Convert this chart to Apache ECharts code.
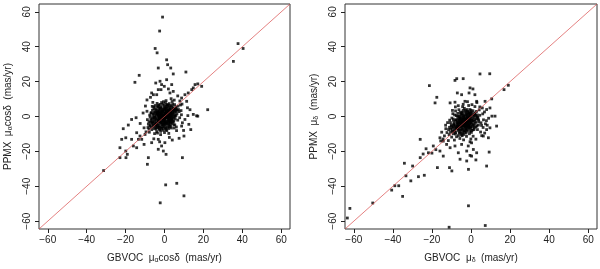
<!DOCTYPE html>
<html>
<head>
<meta charset="utf-8">
<script src="https://cdn.jsdelivr.net/npm/echarts@6/dist/echarts.min.js"></script>
<style>html,body{margin:0;padding:0;background:#fff}#c{width:600px;height:269px}</style>
</head>
<body>
<div id="c"></div>
<script>
// Axis range and tick labels
var axisRange = [-64.5, 64.5];
var tickValues = [-60, -40, -20, 0, 20, 40, 60];

// Left panel: GBVOC mu_alpha cos(delta) vs PPMX mu_alpha cos(delta)
var raCore = [
[0.5,1.2],[-1.3,-0.8],[2.1,2.5],[-2.4,-1.9],[1.1,-0.4],[-0.6,0.9],[3.2,1.8],[-3.1,-2.6],[0.2,-1.5],[1.8,0.6],
[-1.7,1.4],[2.7,-1.1],[-2.9,0.3],[4.1,3.3],[-4.2,-3.5],[0.9,3.1],[-0.4,-3.2],[3.6,-0.5],[-3.5,1.1],[1.4,-2.6],
[-1.1,2.7],[2.3,4.2],[-2.2,-4.1],[5.1,2.4],[-5.0,-2.2],[0.1,4.8],[-0.7,-5.1],[4.4,0.9],[-4.6,-0.6],[2.9,-3.4],
[-2.6,3.6],[1.6,5.5],[-1.9,-5.8],[5.8,4.6],[-5.9,-4.9],[3.5,6.2],[-3.3,-6.4],[6.4,1.5],[-6.2,-1.3],[0.6,-6.8],
[-0.3,6.5],[4.8,-2.7],[-4.7,2.9],[6.9,5.9],[-6.8,-6.1],[2.4,7.4],[-2.5,-7.6],[7.5,2.8],[-7.1,-3.4],[1.2,-8.1],
[-1.5,8.0],[5.3,-4.8],[-5.4,4.4],[3.9,8.6],[-4.0,-8.7],[7.8,-0.7],[-7.6,0.8],[0.0,-9.2],[0.8,9.1],[6.1,-6.0],
[-6.3,5.8],[8.2,6.6],[-8.0,-7.2],[2.0,0.0],[-2.0,0.0],[0.3,2.0],[-0.2,-2.2],[1.5,1.5],[-1.5,-1.6],[3.0,3.0],
[-3.0,-3.1],[1.0,0.3],[-0.9,-0.2],[0.4,-0.7],[-0.5,0.6],[2.5,1.0],[-2.6,-1.1],[1.9,-1.8],[-1.8,1.9],[3.3,0.2],
[-3.4,-0.3],[4.6,4.9],[-4.4,-5.2],[2.2,-4.4],[-2.1,4.5],[5.5,-1.4],[-5.6,1.6],[3.7,-2.2],[-3.8,2.3],[0.7,5.9],
[-0.8,-5.9],[6.6,3.6],[-6.5,-3.8],[4.2,7.1],[-4.3,-7.3],[1.3,-4.0],[-1.2,3.9],[5.9,0.4],[-6.0,-0.5],[2.8,5.1],
[-2.8,-5.3],[7.2,4.0],[-7.3,-5.0],[3.1,-5.6],[-3.2,5.4],[0.5,7.8],[-0.6,-7.9],[4.0,-4.0],[-4.1,3.6],[1.7,2.9],
[-1.7,-3.0],[2.6,-0.3],[-2.7,0.5],[0.9,-2.9],[-1.0,2.5],[3.8,1.3],[-3.9,-1.4],[5.2,6.8],[-5.3,-6.9],[1.1,6.6],
[-1.3,-6.7],[6.8,-2.1],[-6.7,2.2],[2.1,-6.9],[-2.3,6.9],[8.5,3.4],[-8.3,-4.4],[4.9,-6.6],[-4.8,6.3],[0.2,0.1],
[-7.8,-9.0],[7.9,8.9],[-5.1,-9.8],[5.0,9.4],[-8.8,-1.8],[8.7,1.0],[-3.6,-9.5],[3.4,10.2],[9.2,-3.6],[-9.0,3.0],
[6.2,-8.1],[-6.0,8.1],[-8.5,-6.3],[9.0,7.1],[-2.0,-10.4],[2.2,-9.7]
];
var raCoreDense = [
[0.6,-0.2],[-0.3,0.4],[1.2,0.9],[-1.1,-1.3],[0.8,1.8],[-0.7,-1.9],[2.2,1.5],[-2.3,-1.2],[1.5,-1.0],[-1.4,1.0],
[0.0,2.8],[0.1,-2.7],[2.9,0.6],[-2.8,-0.7],[1.9,3.6],[-1.8,-3.5],[3.4,2.4],[-3.3,-2.3],[0.4,-4.2],[-0.5,4.1],
[3.9,-1.6],[-3.7,1.7],[2.4,-2.2],[-2.4,2.1],[4.3,1.9],[-4.4,-2.0],[1.0,4.5],[-1.1,-4.6],[4.7,3.9],[-4.5,-4.2],
[2.6,6.0],[-2.7,-6.1],[5.4,1.0],[-5.3,-1.0],[0.3,-5.5],[-0.2,5.4],[3.3,-3.8],[-3.4,3.2],[5.9,5.3],[-5.7,-5.6],
[1.8,-5.0],[-1.6,5.0],[4.5,-1.0],[-4.3,0.9],[0.7,2.2],[-0.8,-2.4],[2.0,-0.8],[-2.1,0.8],[3.6,4.0],[-3.6,-4.4],
[1.3,3.3],[-1.2,-3.4],[2.7,2.0],[-2.9,-2.0],[0.2,0.9],[-0.1,-0.9],[1.6,0.2],[-1.6,-0.1],[3.1,-1.9],[-3.0,1.8],
[4.0,5.6],[-4.0,-5.9],[0.9,-3.5],[-1.0,3.4],[2.3,-2.9],[-2.5,2.8],[5.0,-0.3],[-5.1,0.4],[1.4,6.8],[-1.5,-7.0],
[3.5,-6.6],[-3.6,6.0],[6.0,2.8],[-6.1,-2.9],[0.1,3.7],[-0.3,-3.9],[2.8,-4.9],[-2.9,4.8],[4.9,4.1],[-4.9,-4.5],
[-6.5,-7.5],[-5.5,-3.0],[-7.0,-1.5],[-6.0,1.0],[-4.5,4.5],[-3.0,6.5],[-1.0,7.0],[1.0,5.0],[3.0,4.5],[4.5,2.5],
[5.5,3.5],[4.0,-2.5],[2.5,-6.0],[0.0,-6.5],[-2.0,-8.5],[-4.5,-6.5],[-7.5,-5.5],[-5.0,-0.5],[-3.5,2.5],[-2.0,5.5],
[0.5,-4.5],[2.0,-3.5],[3.5,-0.8],[1.2,2.4],[-1.4,-1.0],[-2.4,-2.9],[-4.0,-3.8],[-5.8,-4.0],[-6.8,-2.4],[-3.2,0.8],
[-1.9,2.9],[0.4,4.3],[2.4,3.4],[3.9,0.4],[4.4,-3.2],[1.5,-6.2],[-0.9,-4.4],[-3.6,-5.0],[-5.2,2.3],[-4.2,1.8],
[-6.2,3.6],[-7.4,-0.2],[-8.0,-3.0],[-2.6,-7.0],[0.8,-7.5],[3.0,-2.7],[5.3,0.2],[6.0,4.0],[2.0,6.5],[-0.5,8.5],
[-3.8,7.5],[-5.5,5.5],[-7.0,2.0],[-1.3,0.3],[0.0,-1.3],[1.3,-0.3],[-0.6,1.6],[2.8,1.2],[-2.2,-0.5],[4.8,-4.8]
];
var raOuter = [
[-1.0,57.0],[-2.5,49.0],[-4.8,39.0],[-3.8,36.5],[1.1,32.5],[1.6,29.7],[-3.2,27.8],[3.2,27.8],[11.0,25.5],[4.5,24.4],
[-13.0,23.6],[-15.2,19.6],[35.4,31.6],[37.8,41.8],[40.4,39.0],
[-4.5,19.2],[-2.3,20.2],[-1.5,18.3],[1.1,21.1],[-0.1,17.3],[-3.2,15.4],[3.7,18.3],[2.8,13.5],[-4.0,12.5],[-5.7,12.5],
[-6.6,13.5],[-1.8,15.4],[4.5,14.4],[2.0,15.8],
[15.7,18.3],[17.1,18.7],[19.1,17.3],[14.8,16.4],[14.0,15.4],[12.2,13.5],[10.5,12.5],[8.8,10.6],[11.4,8.7],[22.2,3.9],
[17.1,0.2],[14.8,1.2],[13.1,3.9],[10.5,-1.7],[8.8,-5.5],[10.0,-11.2],[9.2,-23.6],[6.3,-38.3],[0.6,-39.2],[10.0,-45.5],
[-2.2,-49.5],
[-21.2,-7.0],[-18.6,-4.9],[-16.9,-1.7],[-14.6,-0.7],[-14.3,-9.3],[-19.9,-12.2],[-22.0,-13.1],[-22.9,-17.9],[-19.9,-19.8],
[-19.1,-21.7],[-22.9,-23.6],[-19.8,-23.6],[-16.9,-13.1],[-13.4,-13.1],[-16.0,-16.9],[-14.3,-17.9],[-11.7,-13.1],
[-8.3,-23.6],[-8.8,-27.4],[-3.2,-18.8],[-0.6,-19.8],[0.8,-21.7],[-1.5,-16.9],[0.2,-15.0],[-3.2,-13.1],[-6.6,-15.0],
[-10.0,-10.3],[-12.6,-11.2],[-31.3,-31.0],
[12.5,-4.5],[-10.5,-6.5],[-9.5,-8.8],[11.8,5.0],[-11.0,2.0],[-9.8,6.0],[9.8,-8.0],[12.0,0.5],[-7.2,11.0],[6.8,11.8],
[-12.5,-4.0],[7.5,-12.5],[-5.5,-12.8],[4.0,-13.5],[-9.0,9.5],[13.5,-7.5],[-2.5,-14.5],[2.5,-12.0],[16.5,0.4],[-10.5,-16.0]
];

// Right panel: GBVOC mu_delta vs PPMX mu_delta
var decCore = [
[-3.0,-2.5],[-1.8,-1.2],[-4.5,-4.1],[-0.6,-0.3],[-5.7,-5.2],[-2.2,-3.8],[-3.9,-1.6],[0.8,0.9],[-7.1,-6.5],[-1.1,-4.9],
[-4.8,-0.4],[1.9,1.6],[-8.2,-7.9],[-2.7,0.7],[-3.6,-6.2],[0.3,-2.4],[-6.3,-3.1],[2.8,2.9],[-9.4,-8.6],[-0.2,-6.8],
[-5.9,0.2],[3.5,-1.3],[-10.1,-4.9],[-1.4,2.4],[-4.2,-8.3],[1.2,-4.2],[-7.5,-1.8],[4.2,3.8],[-11.2,-10.4],[0.9,-7.7],
[-6.8,1.8],[5.1,-3.6],[-8.9,-2.6],[-2.9,3.6],[-5.1,-9.5],[2.4,-5.9],[-9.8,-0.9],[5.8,4.9],[-12.3,-9.2],[-0.8,-9.9],
[-7.9,3.2],[6.4,-1.9],[-3.3,-4.4],[-2.1,-2.0],[-4.0,-3.3],[-1.5,-3.1],[-3.7,-1.0],[-0.4,-1.7],[-5.2,-3.9],[-2.6,-5.6],
[-3.5,0.1],[0.1,-3.6],[-6.1,-5.7],[-1.0,0.4],[-4.6,-6.9],[-0.9,-5.4],[-5.5,-1.1],[1.5,-0.8],[-7.2,-4.4],[-2.4,-7.3],
[-6.6,-8.0],[1.6,-2.7],[-8.1,-5.3],[-1.3,1.5],[-4.4,2.5],[3.1,-0.2],[-9.1,-6.1],[-3.2,-9.0],[-6.0,-2.2],[0.4,1.9],
[-2.0,-4.5],[-3.9,-5.1],[-5.0,-6.1],[-1.7,-0.4],[-4.1,-2.1],[-0.6,-4.3],[-2.9,-1.4],[-6.9,-6.8],[-0.3,0.8],[-7.8,-9.2],
[2.3,0.5],[-8.6,-3.9],[-1.9,-8.4],[-5.3,1.2],[3.8,-4.9],[-10.4,-7.3],[0.2,-9.1],[-4.9,-10.6],[4.5,0.7],[-11.0,-6.2],
[-3.4,4.7],[1.0,3.3],[-6.4,-10.9],[6.9,2.6],[-12.9,-7.0],[-0.5,4.0],[3.3,-7.5],[-7.4,-11.6],[7.4,-4.2],[-9.9,-11.8],
[-2.3,-11.4],[6.2,-6.3],[-13.6,-11.1],[-4.3,5.6],[2.0,5.7],[-8.4,0.9],[4.9,-8.9],[-10.9,-2.1],[-1.2,6.3],[-5.7,-12.6],
[-14.3,-12.9],[7.9,-2.4],[-6.2,3.9],[1.1,-11.3],[-3.8,-13.4],[5.4,-5.1],[-11.6,-13.8],[-0.1,-12.9],[8.3,-5.0],[-9.3,1.6],
[-2.5,-2.9],[-3.1,-3.4],[-4.3,-4.8],[-1.4,-2.2],[-2.0,-0.8],[-5.1,-5.0],[-3.6,-3.9],[-0.9,-2.6],[-4.8,-2.7],[-2.8,-6.1],
[-8.0,5.5],[-4.0,7.0],[0.5,6.8],[3.0,8.0],[-6.5,6.2],[4.5,5.5],[-1.8,8.5],[-9.5,3.5],[6.0,1.5],[-12.0,-3.5],
[-13.0,-5.0],[8.0,-7.5],[7.0,-9.5],[-0.5,-14.5],[2.5,-13.0],[-15.0,-9.0],[-15.5,-14.0],[-8.5,-13.5],[5.5,-11.0],[9.0,-1.0]
];
var decCoreDense = [
[-2.6,-2.0],[-3.4,-3.1],[-1.9,-2.7],[-4.1,-2.6],[-2.2,-1.5],[-3.8,-3.9],[-1.2,-1.0],[-4.8,-4.3],[-2.9,-3.6],[-3.2,-1.8],
[-0.7,-2.1],[-5.3,-3.3],[-1.6,-3.9],[-4.4,-1.3],[-0.2,0.0],[-5.9,-5.8],[-2.4,-4.8],[-3.6,-0.2],[0.6,-1.1],[-6.4,-4.4],
[-1.3,-5.8],[-4.7,0.7],[1.2,0.3],[-7.0,-5.6],[-0.6,-6.3],[-5.6,-0.8],[2.0,-1.9],[-7.6,-7.0],[-2.0,-7.7],[-4.2,1.6],
[0.9,-4.8],[-6.2,-7.4],[-1.0,2.1],[-3.0,-8.2],[2.6,-3.1],[-8.4,-6.7],[-2.3,1.2],[-5.0,-7.8],[1.7,-6.6],[-6.7,-1.5],
[0.0,2.6],[-4.3,-9.6],[3.2,0.9],[-8.8,-4.6],[-1.7,3.0],[-3.3,-5.4],[-2.7,-0.7],[-3.9,-4.5],[-1.4,-3.4],[-4.6,-2.9],
[-0.9,-0.8],[-5.0,-5.6],[-2.1,-6.0],[-3.5,-2.4],[-0.3,-3.3],[-6.0,-3.7],[-1.8,-0.1],[-4.1,-7.2],[0.5,-2.0],[-7.3,-3.0],
[-0.6,1.1],[-5.8,-9.0],[1.4,-5.4],[-9.0,-9.9],[-2.8,2.2],[-3.7,-10.3],[3.9,-2.0],[-10.0,-5.5],[0.3,-8.0],[-6.9,0.1],
[-9.5,-8.0],[-8.0,-10.0],[-10.5,-9.0],[-7.0,-3.5],[-6.0,-9.5],[-4.5,-11.0],[-2.5,-9.5],[-0.5,-8.5],[1.5,-7.5],[3.0,-5.5],
[4.0,-3.0],[3.5,-0.5],[2.0,2.0],[0.0,3.5],[-2.0,4.0],[-4.0,3.5],[-5.5,2.5],[-7.5,0.5],[-9.0,-1.5],[-10.5,-3.5],
[-11.5,-7.5],[-8.5,-8.5],[-6.5,-6.0],[-5.0,-2.0],[-3.5,-5.0],[-1.5,-4.8],[-0.2,-5.5],[1.0,-2.5],[-0.8,-0.8],[-2.0,1.0],
[-3.8,0.6],[-5.8,-1.8],[-7.8,-2.2],[-8.8,-5.0],[-6.8,-4.8],[-4.6,-5.2],[-2.8,-7.0],[-1.0,-7.0],[0.7,-5.8],[2.2,-4.0],
[2.8,-1.2],[1.8,0.8],[-0.4,2.0],[-2.6,2.8],[-4.9,1.9],[-6.3,-0.3],[-7.6,-6.0],[-9.7,-6.4],[-5.4,-7.6],[-3.4,-8.2],
[-1.6,-6.4],[0.0,-4.0],[-1.2,-2.3],[-2.7,-3.3],[-4.3,-3.6],[-3.1,-4.1],[-2.3,-2.4],[-3.9,-2.8],[-1.9,-5.2],[-4.7,-4.6]
];
var decOuter = [
[9.6,24.5],[4.6,24.4],[-4.0,21.7],[-8.2,20.7],[-7.3,21.7],[-21.3,17.7],[19.1,17.9],[16.9,15.4],[10.6,10.1],[-0.5,16.4],
[1.0,15.8],[-1.0,13.5],[-7.0,13.5],[-4.8,12.5],[2.0,12.5],[-17.5,11.0],[-18.4,7.8],[-10.7,7.8],[-8.2,8.2],[-3.1,8.7],
[2.9,8.7],[7.2,8.7],[9.7,4.9],[8.0,4.0],[12.3,0.2],[10.7,0.2],[13.1,-5.5],[9.7,-6.5],[8.9,-12.2],[6.3,-11.2],
[9.3,-20.4],[8.0,-28.4],[2.5,-24.9],[-0.5,-22.3],[-2.2,-25.5],[-1.3,-30.3],[-6.5,-20.8],[-5.6,-24.5],[-9.8,-31.2],[-11.0,-29.3],
[-17.2,-29.3],[-23.9,-33.7],[-26.9,-34.5],[-30.8,-36.9],[-33.3,-34.0],[-34.1,-26.8],[-29.9,-28.4],[-26.0,-23.6],[-23.0,-18.5],[-21.8,-20.8],
[-19.3,-16.9],[-26.0,-13.1],[-15.9,-12.2],[-14.2,-14.1],[-12.5,-16.0],[-15.9,-19.8],[-10.7,-17.9],[-14.2,-22.7],[-8.2,-16.9],[-4.8,-16.0],
[-1.4,-16.9],[0.3,-15.1],[-2.2,-19.8],[1.2,-18.9],[2.9,-20.8],[0.3,-22.7],[-1.3,-51.2],[-35.0,-45.8],[-37.0,-39.7],[-39.0,-39.7],
[-40.6,-42.2],[-50.3,-49.6],[-62.0,-52.7],[-63.3,-58.2],[-11.2,-63.5],[7.3,-62.5],[-20.0,-21.0],[-18.0,-19.0],[-24.5,-21.5]
];

// Identity line y = x endpoints
var identityLine = [[-64.5,-64.5],[64.5,64.5]];

var FONT = 'Liberation Sans';
function fmt(v){ return v < 0 ? '\u2212' + Math.abs(v) : String(v); }
var rich = { sub: { fontSize: 7, verticalAlign: 'bottom', padding: [5,0,0,0], fontFamily: FONT, color: '#222' } };

function xAx(idx, nameParts){
  return {
    type: 'value', gridIndex: idx, min: axisRange[0], max: axisRange[1], position: 'bottom',
    splitLine: { show: false },
    axisLine: { show: false, onZero: false },
    axisTick: { show: true, length: 4, inside: false, customValues: tickValues, lineStyle: { color: '#222', width: 1 } },
    axisLabel: { customValues: tickValues, formatter: fmt, fontFamily: FONT, fontSize: 10, color: '#222', margin: 6 },
    name: nameParts, nameLocation: 'middle', nameGap: 23,
    nameTextStyle: { fontFamily: FONT, fontSize: 10, color: '#222', rich: rich }
  };
}
function yAx(idx, nameParts){
  return {
    type: 'value', gridIndex: idx, min: axisRange[0], max: axisRange[1], position: 'left',
    splitLine: { show: false },
    axisLine: { show: false, onZero: false },
    axisTick: { show: true, length: 4, inside: false, customValues: tickValues, lineStyle: { color: '#222', width: 1 } },
    axisLabel: { customValues: tickValues, formatter: fmt, fontFamily: FONT, fontSize: 10, color: '#222', margin: 7, rotate: 90 },
    name: nameParts, nameLocation: 'middle', nameGap: 25, nameRotate: 90,
    nameTextStyle: { fontFamily: FONT, fontSize: 10, color: '#222', rich: rich }
  };
}

var chart = echarts.init(document.getElementById('c'), null, { renderer: 'canvas' });
var pointStyle = { color: '#000' };
chart.setOption({
  animation: false,
  backgroundColor: '#fff',
  grid: [
    { left: 39, right: 310, top: 4, bottom: 39, show: true, borderColor: '#333', borderWidth: 1, backgroundColor: 'transparent' },
    { left: 345, right: 3, top: 4, bottom: 39, show: true, borderColor: '#333', borderWidth: 1, backgroundColor: 'transparent' }
  ],
  xAxis: [
    xAx(0, 'GBVOC  \u03bc{sub|\u03b1}cos\u03b4  (mas/yr)'),
    xAx(1, 'GBVOC  \u03bc{sub|\u03b4}  (mas/yr)')
  ],
  yAxis: [
    yAx(0, 'PPMX  \u03bc{sub|\u03b1}cos\u03b4  (mas/yr)'),
    yAx(1, 'PPMX  \u03bc{sub|\u03b4}  (mas/yr)')
  ],
  series: [
    { type: 'scatter', xAxisIndex: 0, yAxisIndex: 0, data: raCore.concat(raCoreDense, raOuter), symbol: 'rect', symbolSize: 2.8, itemStyle: pointStyle, z: 2 },
    { type: 'scatter', xAxisIndex: 1, yAxisIndex: 1, data: decCore.concat(decCoreDense, decOuter), symbol: 'rect', symbolSize: 2.8, itemStyle: pointStyle, z: 2 },
    { type: 'line', xAxisIndex: 0, yAxisIndex: 0, data: identityLine, symbol: 'none', lineStyle: { color: '#d84a4a', width: 0.7 }, z: 3 },
    { type: 'line', xAxisIndex: 1, yAxisIndex: 1, data: identityLine, symbol: 'none', lineStyle: { color: '#d84a4a', width: 0.7 }, z: 3 }
  ]
});
</script>
</body>
</html>
